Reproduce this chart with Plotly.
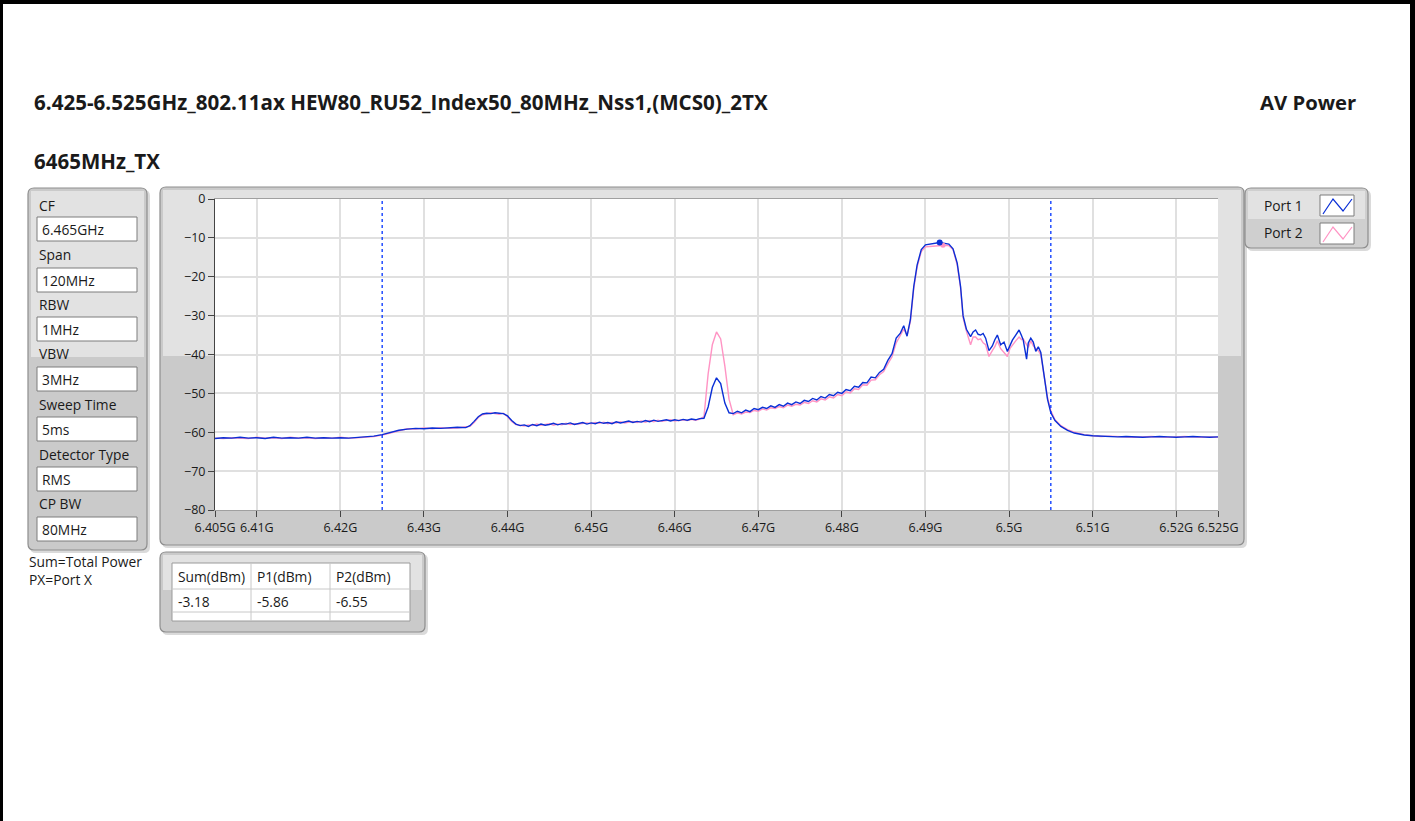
import plotly.graph_objects as go

# ---------------- data ----------------
freq_mhz = (
    [6405, 6406, 6407, 6408, 6409, 6410, 6411, 6412, 6413, 6414, 6415, 6416, 6417, 6418, 6419, 6420,
     6421, 6422, 6423, 6424, 6425, 6426, 6427, 6428, 6429, 6430, 6431, 6432, 6433, 6434, 6435,
     6435.5, 6436, 6436.5, 6437, 6437.5, 6438, 6438.5, 6439, 6439.5, 6440, 6440.5]
    + [6441, 6441.5, 6442, 6442.5, 6443, 6443.5, 6444, 6444.5, 6445, 6445.5,
       6446, 6446.5, 6447, 6447.5, 6448, 6448.5, 6449, 6449.5, 6450, 6450.5,
       6451, 6451.5, 6452, 6452.5, 6453, 6453.5, 6454, 6454.5, 6455, 6455.5,
       6456, 6456.5, 6457, 6457.5, 6458, 6458.5, 6459, 6459.5, 6460, 6460.5,
       6461, 6461.5, 6462, 6462.5, 6463, 6463.5]
    + [6464, 6464.5, 6465, 6465.5, 6466, 6466.5]
    + [6467, 6467.5, 6468, 6468.5, 6469, 6469.5, 6470, 6470.5, 6471, 6471.5,
       6472, 6472.5, 6473, 6473.5, 6474, 6474.5, 6475, 6475.5, 6476, 6476.5,
       6477, 6477.5, 6478, 6478.5, 6479, 6479.5, 6480, 6480.5, 6481, 6481.5,
       6482, 6482.5, 6483, 6483.5, 6484, 6484.5, 6485, 6485.5, 6486]
    + [6486.5, 6487, 6487.4, 6487.8, 6488.2, 6488.6, 6489, 6489.5, 6490, 6490.5,
       6491, 6491.7, 6492.3, 6492.8, 6493.3, 6493.8, 6494.2, 6494.5, 6494.9]
    + [6495.4, 6495.7, 6496, 6496.3, 6496.6, 6496.9, 6497.2, 6497.6, 6498, 6498.3,
       6498.6, 6499, 6499.4, 6499.8, 6500.1, 6500.4, 6500.8, 6501.2, 6501.5, 6501.7,
       6502.1, 6502.3, 6502.6, 6502.9, 6503.2, 6503.5, 6503.8, 6504.2, 6504.6]
    + [6505, 6505.5, 6506.2, 6507, 6507.8, 6509, 6510, 6511, 6512, 6513, 6514,
       6515, 6516, 6517, 6518, 6519, 6520, 6521, 6522, 6523, 6524, 6525]
)

port1_dbm = (
    [-61.6, -61.4, -61.5, -61.3, -61.5, -61.4, -61.6, -61.3, -61.5, -61.4, -61.5, -61.3, -61.5, -61.4, -61.5, -61.4,
     -61.5, -61.3, -61.1, -61.0, -60.6, -60.0, -59.5, -59.2, -59.0, -59.1, -58.9, -59.0, -58.9, -58.7, -58.8,
     -58.3, -57.2, -56.0, -55.3, -55.1, -55.2, -55.0, -55.1, -55.2, -55.8, -57.0]
    + [-57.9, -58.3, -58.1, -58.5, -58.0, -58.3, -57.9, -58.2, -58.0, -57.7,
       -58.1, -57.8, -57.9, -57.6, -58.0, -57.7, -57.5, -57.9, -57.6, -57.8,
       -57.4, -57.7, -57.5, -57.8, -57.3, -57.6, -57.4, -57.1, -57.5, -57.2,
       -57.4, -57.0, -57.3, -56.9, -57.2, -57.0, -56.8, -57.1, -56.8, -57.0,
       -56.7, -56.9, -56.6, -56.8, -56.5, -56.4]
    + [-53.5, -48.5, -46.0, -47.5, -52.5, -55.0]
    + [-55.2, -54.6, -55.0, -54.3, -54.7, -53.9, -54.2, -53.6, -53.9, -53.2,
       -53.6, -52.9, -53.3, -52.5, -52.9, -52.2, -52.6, -51.8, -52.1, -51.3,
       -51.7, -50.8, -51.2, -50.3, -50.6, -49.7, -50.0, -49.0, -49.3, -48.2,
       -48.4, -47.2, -47.3, -45.8, -46.0, -44.6, -43.8, -41.5, -39.8]
    + [-35.8, -34.5, -32.6, -35.3, -31.0, -22.5, -17.0, -13.0, -11.8, -11.6,
       -11.5, -11.2, -11.4, -11.6, -12.8, -16.5, -22.5, -30.0, -33.5]
    + [-35.4, -34.2, -33.7, -34.8, -35.0, -34.6, -35.8, -39.0, -37.8, -36.2,
       -35.0, -37.5, -36.8, -39.2, -37.5, -36.3, -35.0, -33.7, -35.2, -36.3,
       -41.2, -37.0, -35.8, -36.8, -39.2, -38.0, -39.5, -45.5, -51.5]
    + [-55.0, -57.0, -58.5, -59.5, -60.2, -60.7, -60.9, -61.0, -61.1, -61.2, -61.1,
       -61.2, -61.3, -61.2, -61.1, -61.2, -61.3, -61.2, -61.1, -61.2, -61.3, -61.2]
)

port2_dbm = (
    [-61.5, -61.6, -61.4, -61.5, -61.6, -61.3, -61.5, -61.4, -61.6, -61.3, -61.5, -61.4, -61.6, -61.4, -61.5, -61.3,
     -61.5, -61.4, -61.2, -61.1, -60.7, -60.2, -59.6, -59.1, -59.2, -58.9, -59.1, -58.8, -59.0, -58.9, -58.6,
     -58.5, -57.5, -56.2, -55.5, -55.3, -55.0, -55.2, -55.4, -55.1, -56.0, -57.2]
    + [-58.0, -58.2, -58.4, -58.1, -58.3, -57.9, -58.2, -58.0, -57.8, -58.2,
       -57.9, -58.1, -57.7, -58.0, -57.8, -57.9, -57.7, -57.6, -57.8, -57.5,
       -57.7, -57.4, -57.8, -57.5, -57.6, -57.3, -57.6, -57.4, -57.2, -57.5,
       -57.1, -57.4, -57.0, -57.3, -56.9, -57.2, -57.0, -56.8, -57.1, -56.9,
       -56.8, -57.0, -56.7, -56.9, -56.6, -56.0]
    + [-45.0, -37.5, -34.2, -36.0, -43.0, -51.5]
    + [-55.5, -55.0, -55.3, -54.8, -54.9, -54.4, -54.6, -54.0, -54.3, -53.7,
       -53.9, -53.4, -53.7, -53.0, -53.3, -52.8, -53.0, -52.3, -52.6, -51.9,
       -52.2, -51.4, -51.7, -50.9, -51.2, -50.3, -50.6, -49.6, -49.9, -48.8,
       -49.0, -47.8, -47.9, -46.6, -46.5, -45.2, -44.4, -42.4, -40.6]
    + [-37.0, -35.0, -33.5, -35.0, -31.5, -23.0, -17.5, -13.5, -12.3, -12.2,
       -12.1, -12.0, -11.9, -12.0, -13.0, -17.0, -22.8, -30.5, -34.0]
    + [-37.5, -35.5, -35.5, -36.2, -36.0, -37.0, -37.5, -40.5, -39.0, -38.0,
       -36.5, -38.5, -39.5, -40.5, -38.5, -37.5, -36.5, -35.5, -36.2, -36.0,
       -37.5, -38.2, -36.5, -37.8, -38.5, -39.0, -40.0, -45.0, -51.0]
    + [-54.5, -56.8, -58.3, -59.3, -60.0, -60.6, -60.9, -61.1, -61.0, -61.1, -61.2,
       -61.3, -61.2, -61.1, -61.2, -61.3, -61.2, -61.1, -61.2, -61.3, -61.2, -61.3]
)

peak_mhz = [6491.7]
peak_p1 = [-11.2]
peak_p2 = [-11.9]

x_tick_mhz = [6405, 6410, 6420, 6430, 6440, 6450, 6460, 6470, 6480, 6490, 6500, 6510, 6520, 6525]
x_tick_text = ["6.405G", "6.41G", "6.42G", "6.43G", "6.44G", "6.45G", "6.46G", "6.47G",
               "6.48G", "6.49G", "6.5G", "6.51G", "6.52G", "6.525G"]
y_ticks = [0, -10, -20, -30, -40, -50, -60, -70, -80]
cp_edges_mhz = [6425, 6505]

settings_labels = ["CF", "Span", "RBW", "VBW", "Sweep Time", "Detector Type", "CP BW"]
settings_values = ["6.465GHz", "120MHz", "1MHz", "3MHz", "5ms", "RMS", "80MHz"]
table_header = ["Sum(dBm)", "P1(dBm)", "P2(dBm)"]
table_values = ["-3.18", "-5.86", "-6.55"]
legend_names = ["Port 1", "Port 2"]

title_text = "6.425-6.525GHz_802.11ax HEW80_RU52_Index50_80MHz_Nss1,(MCS0)_2TX"
subtitle_text = "6465MHz_TX"
right_text = "AV Power"

assert len(freq_mhz) == len(port1_dbm) == len(port2_dbm)

# ---------------- layout helpers ----------------
W, H = 1415, 821
BLUE = "#0a2fd6"
PINK = "#ff94c4"
FONT = "Open Sans"
TXT = "#1a1a1a"

def px(x):
    return x / W

def py(y):
    return 1 - y / H

shapes = []
annotations = []

def rect(x0, y0, x1, y1, fill, line=None, lw=1, layer="below"):
    shapes.append(dict(type="rect", xref="paper", yref="paper",
                       x0=px(x0), x1=px(x1), y0=py(y1), y1=py(y0),
                       fillcolor=fill, line=dict(color=line or fill, width=lw if line else 0),
                       layer=layer))

def rrect(x0, y0, x1, y1, r, fill, line=None, lw=1, layer="below"):
    rx, ry = r / W, r / H
    X0, X1, Y0, Y1 = px(x0), px(x1), py(y0), py(y1)
    path = (f"M {X0+rx},{Y0} L {X1-rx},{Y0} Q {X1},{Y0} {X1},{Y0-ry} "
            f"L {X1},{Y1+ry} Q {X1},{Y1} {X1-rx},{Y1} L {X0+rx},{Y1} "
            f"Q {X0},{Y1} {X0},{Y1+ry} L {X0},{Y0-ry} Q {X0},{Y0} {X0+rx},{Y0} Z")
    shapes.append(dict(type="path", xref="paper", yref="paper", path=path,
                       fillcolor=fill, line=dict(color=line or fill, width=lw if line else 0),
                       layer=layer))

def text(x, y, s, size=13.8, bold=False, anchor="left", color=TXT):
    annotations.append(dict(xref="paper", yref="paper", x=px(x), y=py(y), text=f"<b>{s}</b>" if bold else s,
                            showarrow=False, xanchor=anchor, yanchor="middle",
                            font=dict(family=FONT, size=size, color=color)))

def panel(x0, y0, x1, y1, split_y, light="#e2e2e2", dark="#cacaca"):
    rrect(x0 + 2, y0 + 2, x1 + 3, y1 + 3, 6, "#dadada")
    rrect(x0, y0, x1, y1, 6, dark, line="#8e8e8e", lw=1.2)
    rect(x0 + 3, y0 + 3, x1 - 3, split_y, light)

# outer black frame
rect(0, 0, W, 4, "#000000")
rect(0, 0, 3, H, "#000000")
rect(W - 5, 0, W, H, "#000000")

# graph panel + white plotting area
panel(160, 187, 1244, 545, 356)
rect(215, 199, 1218, 510, "#ffffff")
# settings panel
panel(28, 188, 147, 550, 357)
# legend panel
rrect(1247, 190, 1371, 251, 6, "#dadada")
rrect(1245, 188, 1368, 248, 6, "#cfcfcf", line="#8e8e8e", lw=1.2)
rect(1248, 191, 1365, 219, "#e2e2e2")
# table panel
panel(160, 552, 425, 632, 590)

# settings fields
label_y = [205, 255, 304, 353, 404, 454, 504]
box_y = [217, 268, 317, 367, 417, 467, 517]
for lab, val, ly, by in zip(settings_labels, settings_values, label_y, box_y):
    text(37, ly, lab)
    rect(37, by, 137, by + 24, "#ffffff", line="#7d7d7d", lw=1)
    text(40, by + 12.5, val)

text(27, 561, "Sum=Total Power")
text(27, 579, "PX=Port X")

# legend
for i, (nm, col) in enumerate(zip(legend_names, [BLUE, PINK])):
    yc = 205 + 28 * i
    text(1262, yc, nm)
    rect(1320, yc - 10, 1354, yc + 11, "#ffffff", line="#7d7d7d", lw=1)
    pts = [(1323, yc + 9), (1333, yc - 6), (1343, yc + 6), (1352, yc - 6)]
    path = "M " + " L ".join(f"{px(a)},{py(b)}" for a, b in pts)
    shapes.append(dict(type="path", xref="paper", yref="paper", path=path,
                       line=dict(color=col, width=1.2), layer="above"))

# table
rect(172, 563, 410, 621, "#ffffff", line="#9a9a9a", lw=1)
for xv in [251, 330]:
    shapes.append(dict(type="line", xref="paper", yref="paper", x0=px(xv), x1=px(xv),
                       y0=py(563), y1=py(621), line=dict(color="#c8c8c8", width=1), layer="above"))
for yv in [589, 612]:
    shapes.append(dict(type="line", xref="paper", yref="paper", x0=px(172), x1=px(410),
                       y0=py(yv), y1=py(yv), line=dict(color="#c8c8c8", width=1), layer="above"))
col_x = [176, 255, 334]
for cx, h, v in zip(col_x, table_header, table_values):
    text(cx, 576, h)
    text(cx, 601, v)

# titles
text(32, 102, title_text, size=20.6, bold=True)
text(1358, 102, right_text, size=20.3, bold=True, anchor="right")
text(32, 161, subtitle_text, size=20.5, bold=True)

# ---------------- traces ----------------
fx = [f / 1000 for f in freq_mhz]
fig = go.Figure()
fig.add_trace(go.Scatter(x=fx, y=port2_dbm, mode="lines", name="Port 2",
                         line=dict(color=PINK, width=1.4), showlegend=False))
fig.add_trace(go.Scatter(x=fx, y=port1_dbm, mode="lines", name="Port 1",
                         line=dict(color=BLUE, width=1.4), showlegend=False))
fig.add_trace(go.Scatter(x=[f / 1000 + 0.0004 for f in peak_mhz], y=peak_p2, mode="markers",
                         marker=dict(color=PINK, size=5), showlegend=False))
fig.add_trace(go.Scatter(x=[f / 1000 for f in peak_mhz], y=peak_p1, mode="markers",
                         marker=dict(color=BLUE, size=6), showlegend=False))

for c in cp_edges_mhz:
    fig.add_shape(type="line", xref="x", yref="y", x0=c / 1000, x1=c / 1000, y0=-80, y1=0,
                  line=dict(color="#0033ff", width=1.3, dash="3px,3px"), layer="above")

for s in shapes:
    fig.add_shape(**s)

fig.update_layout(
    width=W, height=H,
    margin=dict(l=0, r=0, t=0, b=0, pad=0, autoexpand=False),
    paper_bgcolor="#ffffff", plot_bgcolor="#ffffff",
    annotations=annotations,
    xaxis=dict(domain=[px(215), px(1218)], range=[6.405, 6.525], automargin=False,
               tickvals=[t / 1000 for t in x_tick_mhz], ticktext=x_tick_text,
               showgrid=True, gridcolor="#e0e0e0", gridwidth=1.5,
               ticks="outside", ticklen=6, tickcolor="#444444",
               showline=True, linecolor="#a0a0a0", linewidth=1, mirror=True,
               zeroline=False, tickfont=dict(family=FONT, size=12.5, color=TXT)),
    yaxis=dict(domain=[py(510), py(199)], range=[-80, 0], tickvals=y_ticks, automargin=False,
               showgrid=True, gridcolor="#e0e0e0", gridwidth=1.5,
               ticks="outside", ticklen=6, tickcolor="#444444",
               showline=True, linecolor="#444444", linewidth=1,
               zeroline=False, tickfont=dict(family=FONT, size=12.5, color=TXT)),
    font=dict(family=FONT),
)

fig.write_html("out.html", config={"displayModeBar": False},
               post_script="document.body.style.margin='0';document.body.style.overflow='hidden';")
